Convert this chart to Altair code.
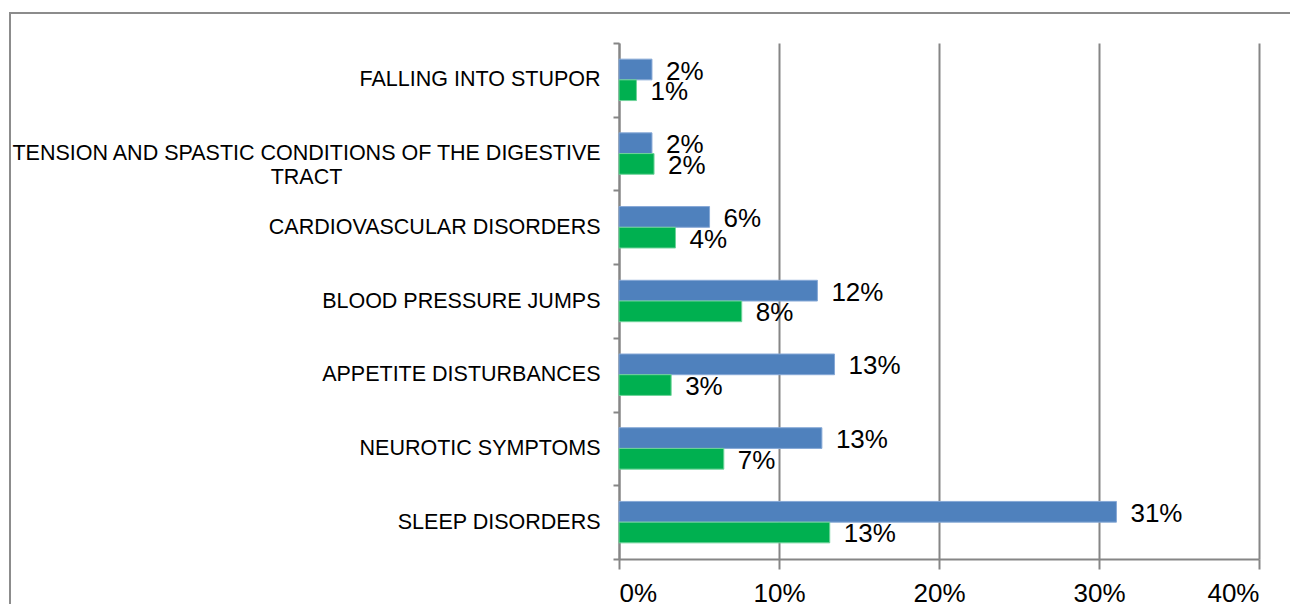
import altair as alt
import pandas as pd

categories = [
    "FALLING INTO STUPOR",
    "TENSION AND SPASTIC CONDITIONS OF THE DIGESTIVE TRACT",
    "CARDIOVASCULAR DISORDERS",
    "BLOOD PRESSURE JUMPS",
    "APPETITE DISTURBANCES",
    "NEUROTIC SYMPTOMS",
    "SLEEP DISORDERS",
]
series = ["Series 1", "Series 2"]
blue_values = [0.0206, 0.0206, 0.0566, 0.124, 0.1347, 0.1268, 0.3109]
green_values = [0.0109, 0.0219, 0.0353, 0.0767, 0.0326, 0.0655, 0.1317]
x_ticks = [0, 0.1, 0.2, 0.3, 0.4]
colors = ["#4F81BD", "#00B050"]
edge_colors = ["#86A8D6", "#6FD39A"]

rows = []
for c, b, g in zip(categories, blue_values, green_values):
    rows.append({"category": c, "series": series[0], "value": b})
    rows.append({"category": c, "series": series[1], "value": g})
df = pd.DataFrame(rows)

LONG = categories[1]
test = f"datum.value === '{LONG}'"
label_expr = (
    f"{test} ? ['TENSION AND SPASTIC CONDITIONS OF THE DIGESTIVE', 'TRACT'] : datum.label"
)

FONT = "Liberation Sans"
GRAY = "#868686"

y_enc = alt.Y(
    "category:N",
    sort=categories,
    scale=alt.Scale(paddingInner=0, paddingOuter=0),
    axis=alt.Axis(
        title=None,
        tickBand="extent",
        grid=False,
        domainColor=GRAY,
        domainWidth=2,
        tickColor=GRAY,
        tickWidth=2,
        tickSize=6,
        labelFont=FONT,
        labelFontSize=21.5,
        labelColor="black",
        labelLimit=1000,
        labelExpr=label_expr,
        labelAlign={"condition": {"test": test, "value": "center"}, "value": "right"},
        labelPadding={"condition": {"test": test, "value": 307}, "value": 13},
        labelLineHeight=23.5,
        labelBaseline="middle",
    ),
)
x_enc = alt.X(
    "value:Q",
    scale=alt.Scale(domain=[0, 0.4], nice=False),
    axis=alt.Axis(
        title=None,
        values=x_ticks,
        format=".0%",
        grid=True,
        gridColor=GRAY,
        gridWidth=2,
        domainColor=GRAY,
        domainWidth=2,
        tickColor=GRAY,
        tickWidth=2,
        tickSize=10,
        labelFont=FONT,
        labelFontSize=26,
        labelColor="black",
        labelPadding=11,
    ),
)
yoff = alt.YOffset(
    "series:N", sort=series, scale=alt.Scale(paddingOuter=0.78, paddingInner=0)
)

base = alt.Chart(df)
bars = base.mark_bar(strokeWidth=1).encode(
    x=x_enc,
    y=y_enc,
    yOffset=yoff,
    color=alt.Color("series:N", scale=alt.Scale(domain=series, range=colors), legend=None),
    stroke=alt.Stroke("series:N", scale=alt.Scale(domain=series, range=edge_colors), legend=None),
)
labels = base.mark_text(
    align="left", baseline="middle", dx=14, dy=2, fontSize=26, font=FONT, color="black"
).encode(
    x="value:Q",
    y=alt.Y("category:N", sort=categories),
    yOffset=yoff,
    text=alt.Text("value:Q", format=".0%"),
)
border = alt.Chart(alt.Data(values=[{"a": 1}])).mark_rect(
    fill="transparent", stroke="#8c8c8c", strokeWidth=2
).encode(
    x=alt.value(-609), x2=alt.value(720), y=alt.value(-30), y2=alt.value(640)
)

chart = (
    alt.layer(border, bars, labels)
    .properties(
        width=640,
        height=516,
        padding={"left": 611, "top": 35, "right": 31, "bottom": 45},
        autosize=alt.AutoSizeParams(type="none"),
        background="white",
    )
    .configure_view(strokeWidth=0)
)

chart.save("out.html", embed_options={"renderer": "svg", "actions": False})
